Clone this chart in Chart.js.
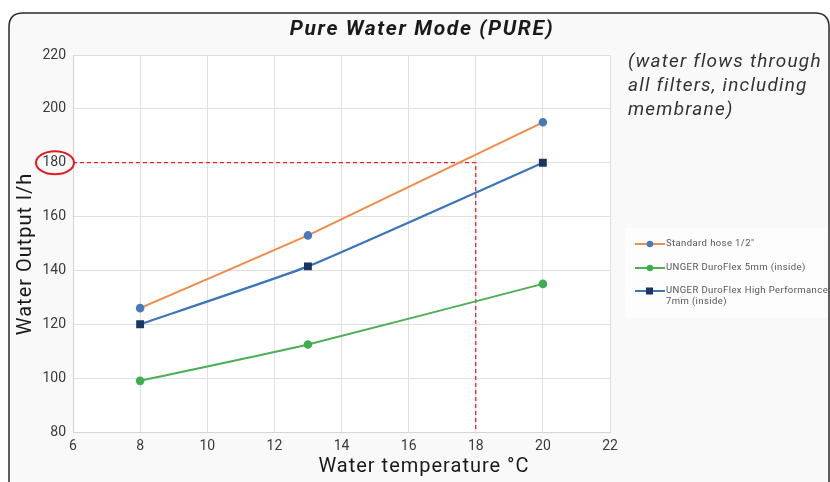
<!DOCTYPE html>
<html>
<head>
<meta charset="utf-8">
<script src="https://cdn.jsdelivr.net/npm/chart.js@4.4.1/dist/chart.umd.min.js"></script>
<style>
html,body{margin:0;padding:0;background:#fff;}
#wrap{position:relative;width:830px;height:482px;}
canvas{display:block;}
</style>
</head>
<body>
<div id="wrap"><canvas id="c" width="830" height="482"></canvas></div>
<script>
// ---- data ----
const temps = [8, 13, 20];
const standardHose = [126, 153, 195];
const duroFlex5 = [99, 112.5, 135];
const duroFlexHP = [120, 141.5, 180];
const refX = [6, 18, 18];
const refY = [180, 180, 80];
const xTicks = [6, 8, 10, 12, 14, 16, 18, 20, 22];
const yTicks = [80, 100, 120, 140, 160, 180, 200, 220];
const seriesNames = ['Standard hose 1/2"', 'UNGER DuroFlex 5mm (inside)', ['UNGER DuroFlex High Performance', '7mm (inside)']];
const titleText = 'Pure Water Mode (PURE)';
const noteLines = ['(water flows through', 'all filters, including', 'membrane)'];
const xTitle = 'Water temperature °C';
const yTitle = 'Water Output l/h';
const markedValue = 180;

const pts = (xs, ys) => xs.map((x, i) => ({x: x, y: ys[i]}));

const FONT = 'Roboto, "DejaVu Sans", sans-serif';

function spaced(ctx, px) { if ('letterSpacing' in ctx) ctx.letterSpacing = px + 'px'; }

const bgPlugin = {
  id: 'bg',
  beforeDraw(chart) {
    const ctx = chart.ctx;
    ctx.save();
    ctx.fillStyle = '#ffffff';
    ctx.fillRect(0, 0, chart.width, chart.height);
    // frame
    const x0 = 9, y0 = 13, x1 = 829, y1 = 520, r = 14;
    ctx.beginPath();
    ctx.moveTo(x0 + r, y0);
    ctx.lineTo(x1 - r, y0);
    ctx.quadraticCurveTo(x1, y0, x1, y0 + r);
    ctx.lineTo(x1, y1);
    ctx.lineTo(x0, y1);
    ctx.lineTo(x0, y0 + r);
    ctx.quadraticCurveTo(x0, y0, x0 + r, y0);
    ctx.closePath();
    ctx.fillStyle = '#f9f9f9';
    ctx.fill();
    ctx.lineWidth = 1.5;
    ctx.strokeStyle = '#2a2a2a';
    ctx.stroke();
    const a = chart.chartArea;
    ctx.fillStyle = '#ffffff';
    ctx.fillRect(a.left, a.top, a.right - a.left, a.bottom - a.top);
    ctx.fillStyle = '#fdfdfd';
    ctx.fillRect(625, 228, 203, 90);
    ctx.restore();
  },
  afterDraw(chart) {
    const ctx = chart.ctx;
    const a = chart.chartArea;
    const ys = chart.scales.y;
    ctx.save();
    // title
    ctx.fillStyle = '#1a1a1a';
    ctx.font = 'italic bold 21px ' + FONT;
    spaced(ctx, 1.6);
    ctx.textAlign = 'center';
    ctx.textBaseline = 'middle';
    ctx.fillText(titleText, 422, 30);
    // note
    ctx.font = 'italic 19px ' + FONT;
    spaced(ctx, 1.2);
    ctx.fillStyle = '#333';
    ctx.textAlign = 'left';
    noteLines.forEach((t, i) => ctx.fillText(t, 628, 62 + i * 24));
    // axis titles
    ctx.fillStyle = '#1a1a1a';
    ctx.font = '20px ' + FONT;
    spaced(ctx, 1);
    ctx.textAlign = 'center';
    ctx.fillText(xTitle, 424, 467);
    ctx.save();
    ctx.translate(26, 254);
    ctx.rotate(-Math.PI / 2);
    ctx.fillText(yTitle, 0, 0);
    ctx.restore();
    spaced(ctx, 0);
    // red ellipse around marked tick
    const yy = ys.getPixelForValue(markedValue);
    ctx.beginPath();
    ctx.ellipse(55, yy, 19, 11.5, 0, 0, Math.PI * 2);
    ctx.lineWidth = 2;
    ctx.strokeStyle = '#e3191f';
    ctx.stroke();
    // legend
    const items = [0, 1, 2];
    const legY = [244, 268, 291];
    ctx.font = '9.5px ' + FONT;
    spaced(ctx, 0.4);
    ctx.textAlign = 'left';
    ctx.textBaseline = 'middle';
    items.forEach((di, k) => {
      const ds = chart.data.datasets[di];
      const y = legY[k];
      ctx.beginPath();
      ctx.moveTo(635, y);
      ctx.lineTo(665, y);
      ctx.lineWidth = 2;
      ctx.strokeStyle = ds.borderColor;
      ctx.stroke();
      ctx.fillStyle = ds.pointBackgroundColor;
      if (ds.pointStyle === 'rect') {
        ctx.fillRect(646, y - 3.5, 7, 7);
      } else {
        ctx.beginPath();
        ctx.arc(650, y, 3.3, 0, Math.PI * 2);
        ctx.fill();
      }
      ctx.fillStyle = '#555';
      const name = seriesNames[di];
      const lines = Array.isArray(name) ? name : [name];
      lines.forEach((t, j) => ctx.fillText(t, 666, y + j * 11));
    });
    ctx.restore();
  }
};

new Chart(document.getElementById('c'), {
  type: 'scatter',
  data: {
    datasets: [
      {
        label: seriesNames[0],
        data: pts(temps, standardHose),
        showLine: true,
        borderColor: '#ef8a47',
        borderWidth: 2,
        pointBackgroundColor: '#4a78be',
        pointBorderColor: '#4a78be',
        pointStyle: 'circle',
        pointRadius: 3.3,
        tension: 0.05,
        order: 2
      },
      {
        label: seriesNames[1],
        data: pts(temps, duroFlex5),
        showLine: true,
        borderColor: '#4cae55',
        borderWidth: 2,
        pointBackgroundColor: '#3fae4e',
        pointBorderColor: '#3fae4e',
        pointStyle: 'circle',
        pointRadius: 3.3,
        tension: 0.15,
        order: 2
      },
      {
        label: 'UNGER DuroFlex High Performance 7mm (inside)',
        data: pts(temps, duroFlexHP),
        showLine: true,
        borderColor: '#3a76b8',
        borderWidth: 2.2,
        pointBackgroundColor: '#1c3462',
        pointBorderColor: '#1c3462',
        pointStyle: 'rect',
        pointRadius: 4,
        tension: 0.15,
        order: 1
      },
      {
        label: 'ref',
        data: pts(refX, refY),
        showLine: true,
        borderColor: '#e3262b',
        borderWidth: 1.3,
        borderDash: [4, 3],
        pointRadius: 0,
        tension: 0,
        order: 3
      }
    ]
  },
  options: {
    responsive: false,
    animation: false,
    events: [],
    layout: {padding: {left: 0, right: 220, top: 55, bottom: 0}},
    plugins: {legend: {display: false}, tooltip: {enabled: false}, title: {display: false}},
    scales: {
      x: {
        type: 'linear',
        min: 6, max: 22,
        afterBuildTicks(s) { s.ticks = xTicks.map(v => ({value: v})); },
        afterFit(s) { s.height = 50; },
        grid: {color: '#e2dede', lineWidth: 1, drawTicks: false},
        border: {color: '#d8d4d4'},
        ticks: {color: '#3a3a3a', font: {family: FONT, size: 14}, padding: 6, maxRotation: 0}
      },
      y: {
        min: 80, max: 220,
        afterBuildTicks(s) { s.ticks = yTicks.map(v => ({value: v})); },
        afterFit(s) { s.width = 73; },
        grid: {color: '#e2dede', lineWidth: 1, drawTicks: false},
        border: {color: '#d8d4d4'},
        ticks: {color: '#3a3a3a', font: {family: FONT, size: 14}, padding: 7}
      }
    }
  },
  plugins: [bgPlugin]
});
</script>
</body>
</html>
